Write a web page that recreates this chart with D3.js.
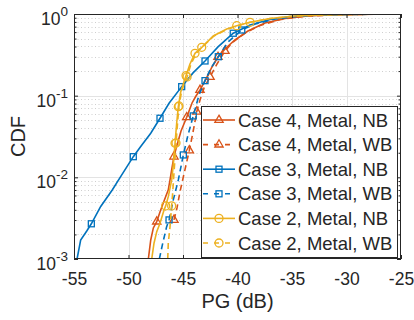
<!DOCTYPE html>
<html lang="en">
<head>
<meta charset="utf-8">
<title>PG CDF</title>
<script src="https://cdn.jsdelivr.net/npm/d3@7"></script>
<style>
body { margin: 0; background: #fff; }
text { font-family: "Liberation Sans", Arial, sans-serif; fill: #262626; }
</style>
</head>
<body>
<script>
// axis ticks
var pgTicks = [-55, -50, -45, -40, -35, -30, -25];
var cdfDecades = [1e-3, 1e-2, 1e-1, 1];
var cdfExp = ["-3", "-2", "-1", "0"];

// Case 4, Metal, NB
var c4nbPg  = [-48.18,-47.96,-47.72,-47.41,-47.11,-46.81,-46.35,-46.19,-46.01,-45.83,-45.55,-45.18,-44.66,-44.17,-43.81,-43.44,-42.89,-42.34,-41.79,-41.06,-40.23,-39.04,-37.48,-35.64,-33.35,-30.60,-27.39,-25];
var c4nbCdf = [0.001,0.00171,0.0024,0.00287,0.00377,0.00486,0.00702,0.00929,0.01303,0.01792,0.02492,0.037,0.0544,0.0814,0.0991,0.1174,0.16,0.2246,0.2976,0.3837,0.4805,0.6194,0.776,0.881,0.9505,0.983,0.9972,1];
var c4nbMarks = [3, 9, 12, 15, 18];

// Case 4, Metal, WB
var c4wbPg  = [-45.83,-45.55,-45.28,-44.97,-44.66,-44.42,-44.17,-43.94,-43.74,-43.44,-43.07,-42.52,-41.88,-41.15,-40.41,-39.31,-37.94,-36.10,-33.81,-31.06,-27.84,-25];
var c4wbCdf = [0.00301,0.00422,0.00663,0.01011,0.01544,0.02134,0.0312,0.0451,0.0637,0.0886,0.1242,0.1694,0.2444,0.3524,0.454,0.5853,0.723,0.856,0.937,0.978,0.994,1];
var c4wbMarks = [0, 5, 8, 11, 13];

// Case 3, Metal, NB
var c3nbPg  = [-54.72,-54.39,-53.83,-53.41,-52.55,-51.49,-50.72,-49.56,-48.88,-47.96,-47.11,-46.28,-45.12,-44.08,-42.98,-41.79,-40.39,-38.85,-37.02,-35.18,-32.89,-29.68,-25];
var c3nbCdf = [0.001,0.0017,0.0022,0.0027,0.0044,0.007,0.0102,0.0179,0.0238,0.0347,0.0529,0.0807,0.129,0.19,0.266,0.395,0.581,0.733,0.856,0.932,0.972,0.992,1];
var c3nbMarks = [3, 7, 10, 12, 14, 16];

// Case 3, Metal, WB
var c3wbPg  = [-47.17,-46.86,-46.50,-46.28,-45.89,-45.43,-44.97,-44.54,-44.06,-43.53,-42.98,-42.43,-41.76,-40.87,-39.61,-38.39,-36.56,-34.27,-31.51,-27.84,-25];
var c3wbCdf = [0.001,0.00156,0.00249,0.00301,0.00529,0.00929,0.0188,0.033,0.0565,0.102,0.1527,0.2183,0.3,0.454,0.637,0.754,0.869,0.945,0.978,0.994,1];
var c3wbMarks = [3, 6, 8, 10, 12, 14];

// Case 2, Metal, NB
var c2nbPg  = [-47.87,-47.66,-47.41,-47.11,-46.74,-46.59,-46.35,-46.04,-45.89,-45.73,-45.58,-45.43,-45.21,-44.97,-44.72,-44.36,-43.90,-43.28,-42.22,-40.99,-40.07,-38.85,-37.02,-34.72,-31.51,-27.84,-25];
var c2nbCdf = [0.001,0.00156,0.00216,0.00274,0.00399,0.00447,0.0058,0.00929,0.01418,0.0261,0.0459,0.0733,0.111,0.139,0.176,0.2444,0.33,0.391,0.538,0.655,0.719,0.791,0.881,0.945,0.983,0.997,1];
var c2nbMarks = [5, 9, 11, 14, 16, 20];

// Case 2, Metal, WB
var c2wbPg  = [-46.40,-46.35,-46.19,-46.04,-45.95,-45.83,-45.73,-45.64,-45.50,-45.37,-45.14,-44.91,-44.63,-44.27,-43.81,-43.28,-42.16,-40.87,-39.77,-38.85,-37.02,-34.72,-31.51,-27.84,-25];
var c2wbCdf = [0.001,0.00157,0.00249,0.00447,0.00639,0.01122,0.01727,0.02636,0.0465,0.0748,0.111,0.139,0.1694,0.2444,0.324,0.391,0.538,0.655,0.733,0.791,0.881,0.945,0.983,0.997,1];
var c2wbMarks = [3, 7, 9, 12, 15, 19];

var legendNames = ["Case 4, Metal, NB", "Case 4, Metal, WB", "Case 3, Metal, NB",
                   "Case 3, Metal, WB", "Case 2, Metal, NB", "Case 2, Metal, WB"];

var blue = "#0072BD", orange = "#D95319", yellow = "#EDB120";

var series = [
  {pg: c4nbPg, cdf: c4nbCdf, marks: c4nbMarks, color: orange, dash: null, shape: "tri"},
  {pg: c4wbPg, cdf: c4wbCdf, marks: c4wbMarks, color: orange, dash: "6,4", shape: "tri"},
  {pg: c3nbPg, cdf: c3nbCdf, marks: c3nbMarks, color: blue, dash: null, shape: "sq"},
  {pg: c3wbPg, cdf: c3wbCdf, marks: c3wbMarks, color: blue, dash: "6,4", shape: "sq"},
  {pg: c2nbPg, cdf: c2nbCdf, marks: c2nbMarks, color: yellow, dash: null, shape: "circ"},
  {pg: c2wbPg, cdf: c2wbCdf, marks: c2wbMarks, color: yellow, dash: "6,4", shape: "circ"}
];

var W = 414, H = 320;
var mLeft = 74, mRight = 401, mTop = 14, mBottom = 259;

var x = d3.scaleLinear().domain([-55, -25]).range([mLeft, mRight]);
var y = d3.scaleLog().domain([1e-3, 1]).range([mBottom, mTop]);

var svg = d3.select("body").append("svg").attr("width", W).attr("height", H);

// minor y values
var minorY = [];
cdfDecades.slice(0, 3).forEach(function(d) {
  for (var k = 2; k <= 9; k++) minorY.push(d * k);
});

// grid
var grid = svg.append("g");
grid.selectAll(".minor").data(minorY).enter().append("line")
  .attr("x1", mLeft).attr("x2", mRight)
  .attr("y1", function(d) { return Math.round(y(d)) + 0.5; })
  .attr("y2", function(d) { return Math.round(y(d)) + 0.5; })
  .attr("stroke", "#cfcfcf").attr("stroke-width", 1).attr("stroke-dasharray", "1,2.5");
grid.selectAll(".vmaj").data(pgTicks.slice(1, -1)).enter().append("line")
  .attr("x1", function(d) { return Math.round(x(d)) + 0.5; })
  .attr("x2", function(d) { return Math.round(x(d)) + 0.5; })
  .attr("y1", mTop).attr("y2", mBottom)
  .attr("stroke", "#e3e3e3").attr("stroke-width", 1);
grid.selectAll(".hmaj").data(cdfDecades.slice(1, -1)).enter().append("line")
  .attr("x1", mLeft).attr("x2", mRight)
  .attr("y1", function(d) { return Math.round(y(d)) + 0.5; })
  .attr("y2", function(d) { return Math.round(y(d)) + 0.5; })
  .attr("stroke", "#e3e3e3").attr("stroke-width", 1);

// curves
svg.append("clipPath").attr("id", "clip").append("rect")
  .attr("x", mLeft).attr("y", mTop).attr("width", mRight - mLeft).attr("height", mBottom - mTop);

var plot = svg.append("g").attr("clip-path", "url(#clip)");
var line = d3.line().x(function(d) { return x(d[0]); }).y(function(d) { return y(d[1]); });

function marker(g, shape, color) {
  if (shape === "tri") {
    g.append("path").attr("d", d3.symbol().type(d3.symbolTriangle).size(30)())
      .attr("fill", "none").attr("stroke", color).attr("stroke-width", 1.3);
  } else if (shape === "sq") {
    g.append("rect").attr("x", -3).attr("y", -3).attr("width", 6).attr("height", 6)
      .attr("fill", "none").attr("stroke", color).attr("stroke-width", 1.3);
  } else {
    g.append("circle").attr("r", 4)
      .attr("fill", "none").attr("stroke", color).attr("stroke-width", 1.3);
  }
}

series.forEach(function(s) {
  var pts = s.pg.map(function(v, i) { return [v, s.cdf[i]]; });
  plot.append("path").datum(pts)
    .attr("d", line)
    .attr("fill", "none")
    .attr("stroke", s.color)
    .attr("stroke-width", 1.6)
    .attr("stroke-dasharray", s.dash);
  s.marks.forEach(function(i) {
    var g = plot.append("g").attr("transform", "translate(" + x(s.pg[i]) + "," + y(s.cdf[i]) + ")");
    marker(g, s.shape, s.color);
  });
});

// axes (inward ticks on all four sides)
var axisColor = "#262626";
var xb = svg.append("g").attr("transform", "translate(0," + mBottom + ")")
  .call(d3.axisBottom(x).tickValues(pgTicks).tickSizeInner(-4).tickSizeOuter(0).tickPadding(14)
    .tickFormat(function(d) { return d; }));
var xt = svg.append("g").attr("transform", "translate(0," + mTop + ")")
  .call(d3.axisTop(x).tickValues(pgTicks).tickSizeInner(-4).tickSizeOuter(0).tickFormat(""));
var yl = svg.append("g").attr("transform", "translate(" + mLeft + ",0)")
  .call(d3.axisLeft(y).tickValues(cdfDecades).tickSizeInner(-4).tickSizeOuter(0).tickFormat(""));
var yr = svg.append("g").attr("transform", "translate(" + mRight + ",0)")
  .call(d3.axisRight(y).tickValues(cdfDecades).tickSizeInner(-4).tickSizeOuter(0).tickFormat(""));
var ylm = svg.append("g").attr("transform", "translate(" + mLeft + ",0)")
  .call(d3.axisLeft(y).tickValues(minorY).tickSizeInner(-2.5).tickSizeOuter(0).tickFormat(""));
var yrm = svg.append("g").attr("transform", "translate(" + mRight + ",0)")
  .call(d3.axisRight(y).tickValues(minorY).tickSizeInner(-2.5).tickSizeOuter(0).tickFormat(""));

[xb, xt, yl, yr, ylm, yrm].forEach(function(a) {
  a.select(".domain").remove();
  a.selectAll("line").attr("stroke", axisColor);
});
xb.selectAll("text").attr("font-size", "17.5px").attr("fill", axisColor)
  .attr("font-family", "Liberation Sans, Arial, sans-serif")
  .text(function(d) { return d; });

svg.append("rect").attr("x", mLeft + 0.5).attr("y", mTop + 0.5)
  .attr("width", mRight - mLeft - 1).attr("height", mBottom - mTop - 1)
  .attr("fill", "none").attr("stroke", axisColor).attr("stroke-width", 1);

// y tick labels 10^n
cdfDecades.forEach(function(d, i) {
  var t = svg.append("text").attr("x", 68).attr("y", y(d) + 11)
    .attr("text-anchor", "end").attr("font-size", "17.5px");
  t.append("tspan").text("10");
  t.append("tspan").attr("dy", -9).attr("font-size", "13.5px").text(cdfExp[i]);
});

// axis labels
svg.append("text").attr("x", (mLeft + mRight) / 2).attr("y", 308)
  .attr("text-anchor", "middle").attr("font-size", "20px").text("PG (dB)");
svg.append("text").attr("transform", "translate(25," + ((mTop + mBottom) / 2) + ") rotate(-90)")
  .attr("text-anchor", "middle").attr("font-size", "20px").text("CDF");

// legend
var lg = svg.append("g");
lg.append("rect").attr("x", 201.5).attr("y", 106.5).attr("width", 196).attr("height", 151)
  .attr("fill", "#fff").attr("stroke", axisColor).attr("stroke-width", 1);
series.forEach(function(s, i) {
  var cy = 120 + i * 24.6;
  lg.append("line").attr("x1", 203).attr("x2", 235).attr("y1", cy).attr("y2", cy)
    .attr("stroke", s.color).attr("stroke-width", 1.6).attr("stroke-dasharray", s.dash ? "5,6" : null);
  var g = lg.append("g").attr("transform", "translate(219," + cy + ")");
  marker(g, s.shape, s.color);
  lg.append("text").attr("x", 238).attr("y", cy + 6.5).attr("font-size", "18.5px")
    .attr("fill", "#000").text(legendNames[i]);
});
</script>
</body>
</html>
